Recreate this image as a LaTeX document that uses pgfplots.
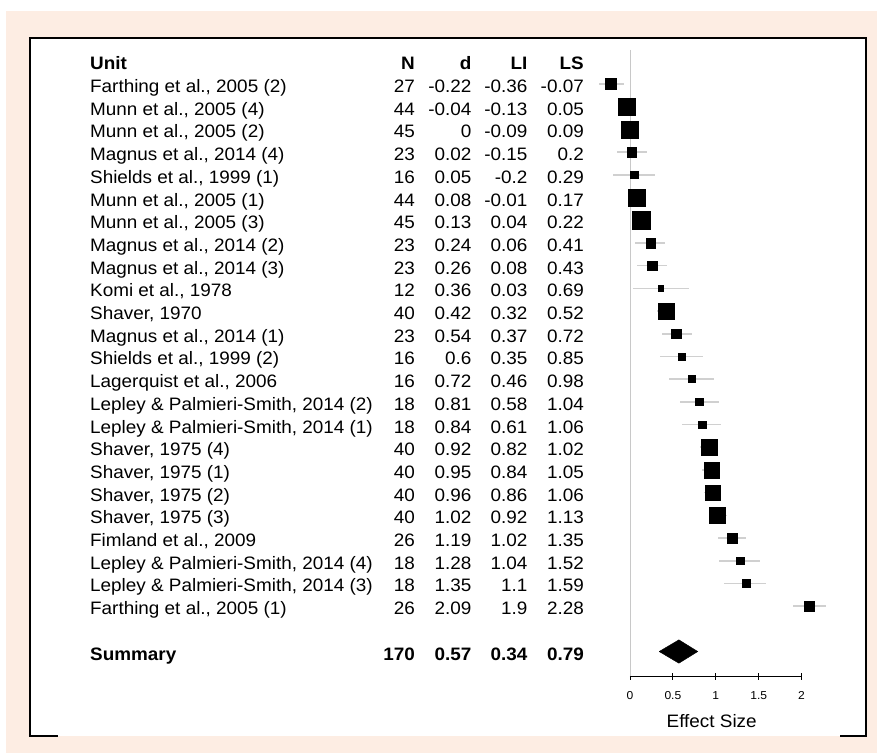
\documentclass[border=0pt]{standalone}
\usepackage{pgfplots}
\pgfplotsset{compat=1.18}
\usepackage{pgfplotstable}
\usetikzlibrary{backgrounds}
\usepackage{fontspec}
\setmainfont[FakeStretch=1.05]{Liberation Sans}
\definecolor{peach}{HTML}{FDEDE3}
\definecolor{cigray}{HTML}{D0D0D0}
\definecolor{zerogray}{HTML}{C8C8C8}
\definecolor{ingray}{HTML}{A8A8A8}

% row, d, lower, upper, box size (px)
\pgfplotstableread{
row d lo hi s
1 -0.22 -0.36 -0.07 11.3
2 -0.04 -0.13 0.05 17.3
3 0 -0.09 0.09 17.7
4 0.02 -0.15 0.2 9.7
5 0.05 -0.2 0.29 7.7
6 0.08 -0.01 0.17 17.3
7 0.13 0.04 0.22 18
8 0.24 0.06 0.41 10
9 0.26 0.08 0.43 10
10 0.36 0.03 0.69 6
11 0.42 0.32 0.52 16.3
12 0.54 0.37 0.72 10
13 0.6 0.35 0.85 7.7
14 0.72 0.46 0.98 7.3
15 0.81 0.58 1.04 8
16 0.84 0.61 1.06 8
17 0.92 0.82 1.02 16.5
18 0.95 0.84 1.05 16
19 0.96 0.86 1.06 15.7
20 1.02 0.92 1.13 16.7
21 1.19 1.02 1.35 11
22 1.28 1.04 1.52 8.3
23 1.35 1.1 1.59 8.3
24 2.09 1.9 2.28 9.7
}\studies

\newcommand{\rowtext}[6]{%
  \node[anchor=base west, inner sep=0pt] at ([xshift=-540bp,yshift=-8.5bp]axis cs:0,-#1) {#2};
  \node[anchor=base east, inner sep=0pt] at ([xshift=-215bp,yshift=-8.5bp]axis cs:0,-#1) {#3};
  \node[anchor=base east, inner sep=0pt] at ([xshift=-158.3bp,yshift=-8.5bp]axis cs:0,-#1) {#4};
  \node[anchor=base east, inner sep=0pt] at ([xshift=-102.3bp,yshift=-8.5bp]axis cs:0,-#1) {#5};
  \node[anchor=base east, inner sep=0pt] at ([xshift=-46bp,yshift=-8.5bp]axis cs:0,-#1) {#6};
}

\begin{document}
\begin{tikzpicture}[x=1bp,y=1bp,font=\fontsize{18bp}{21bp}\selectfont]
\begin{axis}[
  x=85.8bp, y=22.7bp,
  xmin=0, xmax=2, ymin=-27.1, ymax=0.5,
  clip=false,
  axis x line=bottom, axis y line=none,
  x axis line style={-, line width=0.8bp},
  xtick={0,0.5,1,1.5,2},
  xticklabels={0,0.5,1,1.5,2},
  tick align=center,
  major tick length=7bp,
  every tick/.style={black, line width=0.8bp},
  /pgf/number format/assume math mode=true,
  xticklabel style={font=\fontsize{11.5bp}{12bp}\selectfont, anchor=base, yshift=-20bp},
  xlabel={Effect Size},
  every axis x label/.style={at={(axis description cs:0.476,0)}, anchor=base, yshift=-51bp, font=\fontsize{18bp}{21bp}\selectfont},
]
\coordinate (O) at (axis cs:0,-27.1);
\addplot[zerogray, line width=0.8bp, forget plot] coordinates {(0,0.5) (0,-27.1)};

\addplot[only marks, mark=none,
  error bars/.cd, x dir=both, x explicit, error mark=none,
  error bar style={cigray, line width=1.6bp, solid}]
  table[x=d, y expr=-\thisrow{row},
        x error plus expr=\thisrow{hi}-\thisrow{d},
        x error minus expr=\thisrow{d}-\thisrow{lo}] {\studies};

\addplot[only marks, mark=square*, scatter,
  scatter/use mapped color={draw=black, fill=black},
  point meta=\thisrow{s},
  visualization depends on={\thisrow{s}/2-0.2 \as \hs},
  scatter/@pre marker code/.append style={/tikz/mark size=\hs bp}]
  table[x=d, y expr=-\thisrow{row}] {\studies};

% confidence lines visible inside boxes wider than the interval
\addplot[ingray, line width=1.2bp] coordinates {(-0.13,-2) (0.05,-2)};
\addplot[ingray, line width=1.2bp] coordinates {(-0.09,-3) (0.09,-3)};
\addplot[ingray, line width=1.2bp] coordinates {(-0.01,-6) (0.17,-6)};
\addplot[ingray, line width=1.2bp] coordinates {(0.04,-7) (0.22,-7)};

% summary diamond
\addplot[black, fill=black] coordinates {(0.34,-26) (0.57,-25.485) (0.79,-26) (0.57,-26.515) (0.34,-26)};

\rowtext{0}{\textbf{Unit}}{\textbf{N}}{\textbf{d}}{\textbf{LI}}{\textbf{LS}}
\rowtext{1}{Farthing et al., 2005 (2)}{27}{-0.22}{-0.36}{-0.07}
\rowtext{2}{Munn et al., 2005 (4)}{44}{-0.04}{-0.13}{0.05}
\rowtext{3}{Munn et al., 2005 (2)}{45}{0}{-0.09}{0.09}
\rowtext{4}{Magnus et al., 2014 (4)}{23}{0.02}{-0.15}{0.2}
\rowtext{5}{Shields et al., 1999 (1)}{16}{0.05}{-0.2}{0.29}
\rowtext{6}{Munn et al., 2005 (1)}{44}{0.08}{-0.01}{0.17}
\rowtext{7}{Munn et al., 2005 (3)}{45}{0.13}{0.04}{0.22}
\rowtext{8}{Magnus et al., 2014 (2)}{23}{0.24}{0.06}{0.41}
\rowtext{9}{Magnus et al., 2014 (3)}{23}{0.26}{0.08}{0.43}
\rowtext{10}{Komi et al., 1978}{12}{0.36}{0.03}{0.69}
\rowtext{11}{Shaver, 1970}{40}{0.42}{0.32}{0.52}
\rowtext{12}{Magnus et al., 2014 (1)}{23}{0.54}{0.37}{0.72}
\rowtext{13}{Shields et al., 1999 (2)}{16}{0.6}{0.35}{0.85}
\rowtext{14}{Lagerquist et al., 2006}{16}{0.72}{0.46}{0.98}
\rowtext{15}{Lepley \& Palmieri-Smith, 2014 (2)}{18}{0.81}{0.58}{1.04}
\rowtext{16}{Lepley \& Palmieri-Smith, 2014 (1)}{18}{0.84}{0.61}{1.06}
\rowtext{17}{Shaver, 1975 (4)}{40}{0.92}{0.82}{1.02}
\rowtext{18}{Shaver, 1975 (1)}{40}{0.95}{0.84}{1.05}
\rowtext{19}{Shaver, 1975 (2)}{40}{0.96}{0.86}{1.06}
\rowtext{20}{Shaver, 1975 (3)}{40}{1.02}{0.92}{1.13}
\rowtext{21}{Fimland et al., 2009}{26}{1.19}{1.02}{1.35}
\rowtext{22}{Lepley \& Palmieri-Smith, 2014 (4)}{18}{1.28}{1.04}{1.52}
\rowtext{23}{Lepley \& Palmieri-Smith, 2014 (3)}{18}{1.35}{1.1}{1.59}
\rowtext{24}{Farthing et al., 2005 (1)}{26}{2.09}{1.9}{2.28}
\rowtext{26}{\textbf{Summary}}{\textbf{170}}{\textbf{0.57}}{\textbf{0.34}}{\textbf{0.79}}
\end{axis}
\path (O) ++(-630,-76.5) coordinate (BL);
\begin{scope}[on background layer, shift={(BL)}]
\fill[white] (0,0) rectangle (877,753);
\fill[peach] (6,0) rectangle (877,742);
\fill[white] (30,17) rectangle (866,715);
\draw[line width=1.2bp] (30,715) -- (866,715);
\draw[line width=2.2bp] (30,16) -- (30,716);
\draw[line width=2.2bp] (866,16) -- (866,716);
\draw[line width=2.2bp] (29,715) -- (58,715);
\draw[line width=2.2bp] (840,715) -- (867,715);
\draw[line width=2.2bp] (29,17) -- (58,17);
\draw[line width=2.2bp] (840,17) -- (867,17);
\end{scope}
\pgfresetboundingbox
\path[use as bounding box, shift={(BL)}] (0,0) rectangle (877,753);
\end{tikzpicture}
\end{document}
